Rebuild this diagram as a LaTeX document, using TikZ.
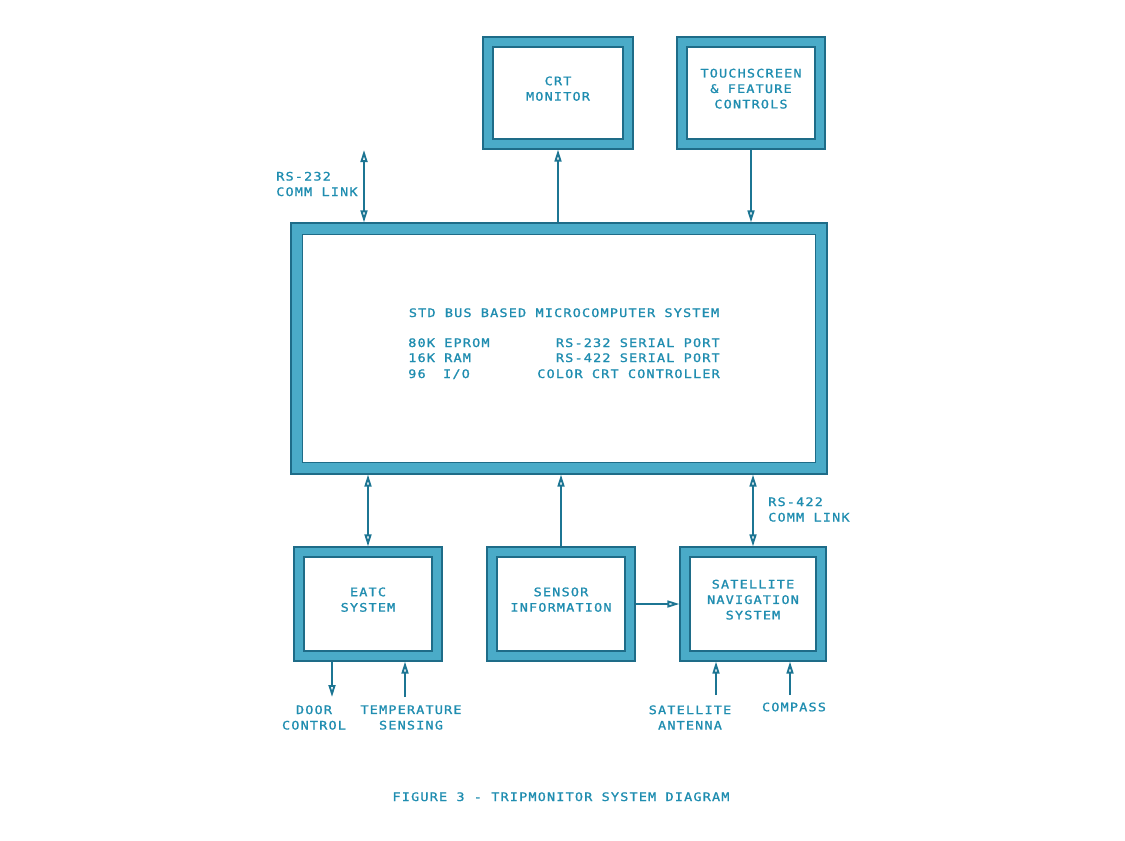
\documentclass[tikz,border=0pt]{standalone}
\usepackage{fontspec}
\usetikzlibrary{arrows.meta,fit,calc}
\newfontfamily\diagfont[FakeStretch=1.15,LetterSpace=10,FakeBold=1.2]{DejaVu Sans Mono}
\definecolor{inkc}{HTML}{1F8DB0}
\definecolor{bordfill}{HTML}{4AABC8}
\definecolor{borddark}{HTML}{1E6C88}
\definecolor{linec}{HTML}{1C7593}
\begin{document}
\begin{tikzpicture}[x=0.75pt,y=-0.75pt,
  txt/.style={font=\diagfont\fontsize{8.8pt}{11.6pt}\selectfont, text=inkc, align=center, inner sep=0pt},
  framebox/.style={fill=bordfill, draw=borddark, line width=0.9pt, inner sep=0pt,
    path picture={\draw[borddark, line width=0.9pt, fill=white]
      ([shift={(#1,-#1)}]path picture bounding box.north west) rectangle
      ([shift={(-#1,#1)}]path picture bounding box.south east);}},
  framebox/.default=7.5pt,
  arr/.style={-{Triangle[open,length=9pt,width=5.2pt]}, draw=linec, line width=1.4pt},
  arrtwo/.style={{Triangle[open,length=9pt,width=5.2pt]}-{Triangle[open,length=9pt,width=5.2pt]}, draw=linec, line width=1.4pt}]
\useasboundingbox (0,0) rectangle (1125,840);

% boxes
\node[framebox, txt, fit={(483,37)(633,149)}] (crt) {CRT\\MONITOR};
\node[framebox, txt, fit={(677,37)(825,149)}] (touch) {TOUCHSCREEN\\\& FEATURE\\CONTROLS};
\node[framebox=8.5pt, fit={(291,223)(827,474)}] (main) {};
\node[framebox, txt, fit={(294,547)(442,661)}] (eatc) {EATC\\SYSTEM};
\node[framebox, txt, fit={(487,547)(635,661)}] (sensor) {SENSOR\\INFORMATION};
\node[framebox, txt, fit={(680,547)(826,661)}] (satnav) {SATELLITE\\NAVIGATION\\SYSTEM};

% main box text
\node[txt, anchor=base] (title) at (564,317) {STD BUS BASED MICROCOMPUTER SYSTEM};
\node[txt, anchor=base west] (eprom) at (408,347) {80K EPROM};
\node[txt, anchor=base west] (ram) at (408,362) {16K RAM};
\node[txt, anchor=base west] (io) at (408,378) {96\hphantom{K} I/O};
\node[txt, anchor=base east] (rsA232) at (720,347) {RS-232 SERIAL PORT};
\node[txt, anchor=base east] (rsA422) at (720,362) {RS-422 SERIAL PORT};
\node[txt, anchor=base east] (crtc) at (720,378) {COLOR CRT CONTROLLER};

% labels
\node[txt, align=left, anchor=west] (lab232) at (276,184) {RS-232\\COMM LINK};
\node[txt, align=left, anchor=west] (lab422) at (768,509.5) {RS-422\\COMM LINK};
\node[txt] (door) at (314,717.5) {DOOR\\CONTROL};
\node[txt] (temp) at (411,717.5) {TEMPERATURE\\SENSING};
\node[txt] (ant) at (690,717.5) {SATELLITE\\ANTENNA};
\node[txt] (compass) at (794,707) {COMPASS};
\node[txt, anchor=base] (caption) at (561,801) {FIGURE 3 - TRIPMONITOR SYSTEM DIAGRAM};

% connectors
\coordinate (rsEnd) at (364,150);
\coordinate (doorEnd) at (332,697);
\coordinate (tempEnd) at (405,697);
\coordinate (antEnd) at (716,695);
\coordinate (compEnd) at (790,695);

\draw[arrtwo] (rsEnd) -- (rsEnd |- main.north);
\draw[arr] (main.north -| crt.south) -- (crt.south);
\draw[arr] (touch.south) -- (main.north -| touch.south);
\draw[arrtwo] (main.south -| eatc.north) -- (eatc.north);
\draw[arr] (sensor.north) -- (main.south -| sensor.north);
\draw[arrtwo] (main.south -| satnav.north) -- (satnav.north);
\draw[arr] (sensor.east) -- (satnav.west);
\draw[arr] (doorEnd |- eatc.south) -- (doorEnd);
\draw[arr] (tempEnd) -- (tempEnd |- eatc.south);
\draw[arr] (antEnd) -- (antEnd |- satnav.south);
\draw[arr] (compEnd) -- (compEnd |- satnav.south);
\end{tikzpicture}
\end{document}
